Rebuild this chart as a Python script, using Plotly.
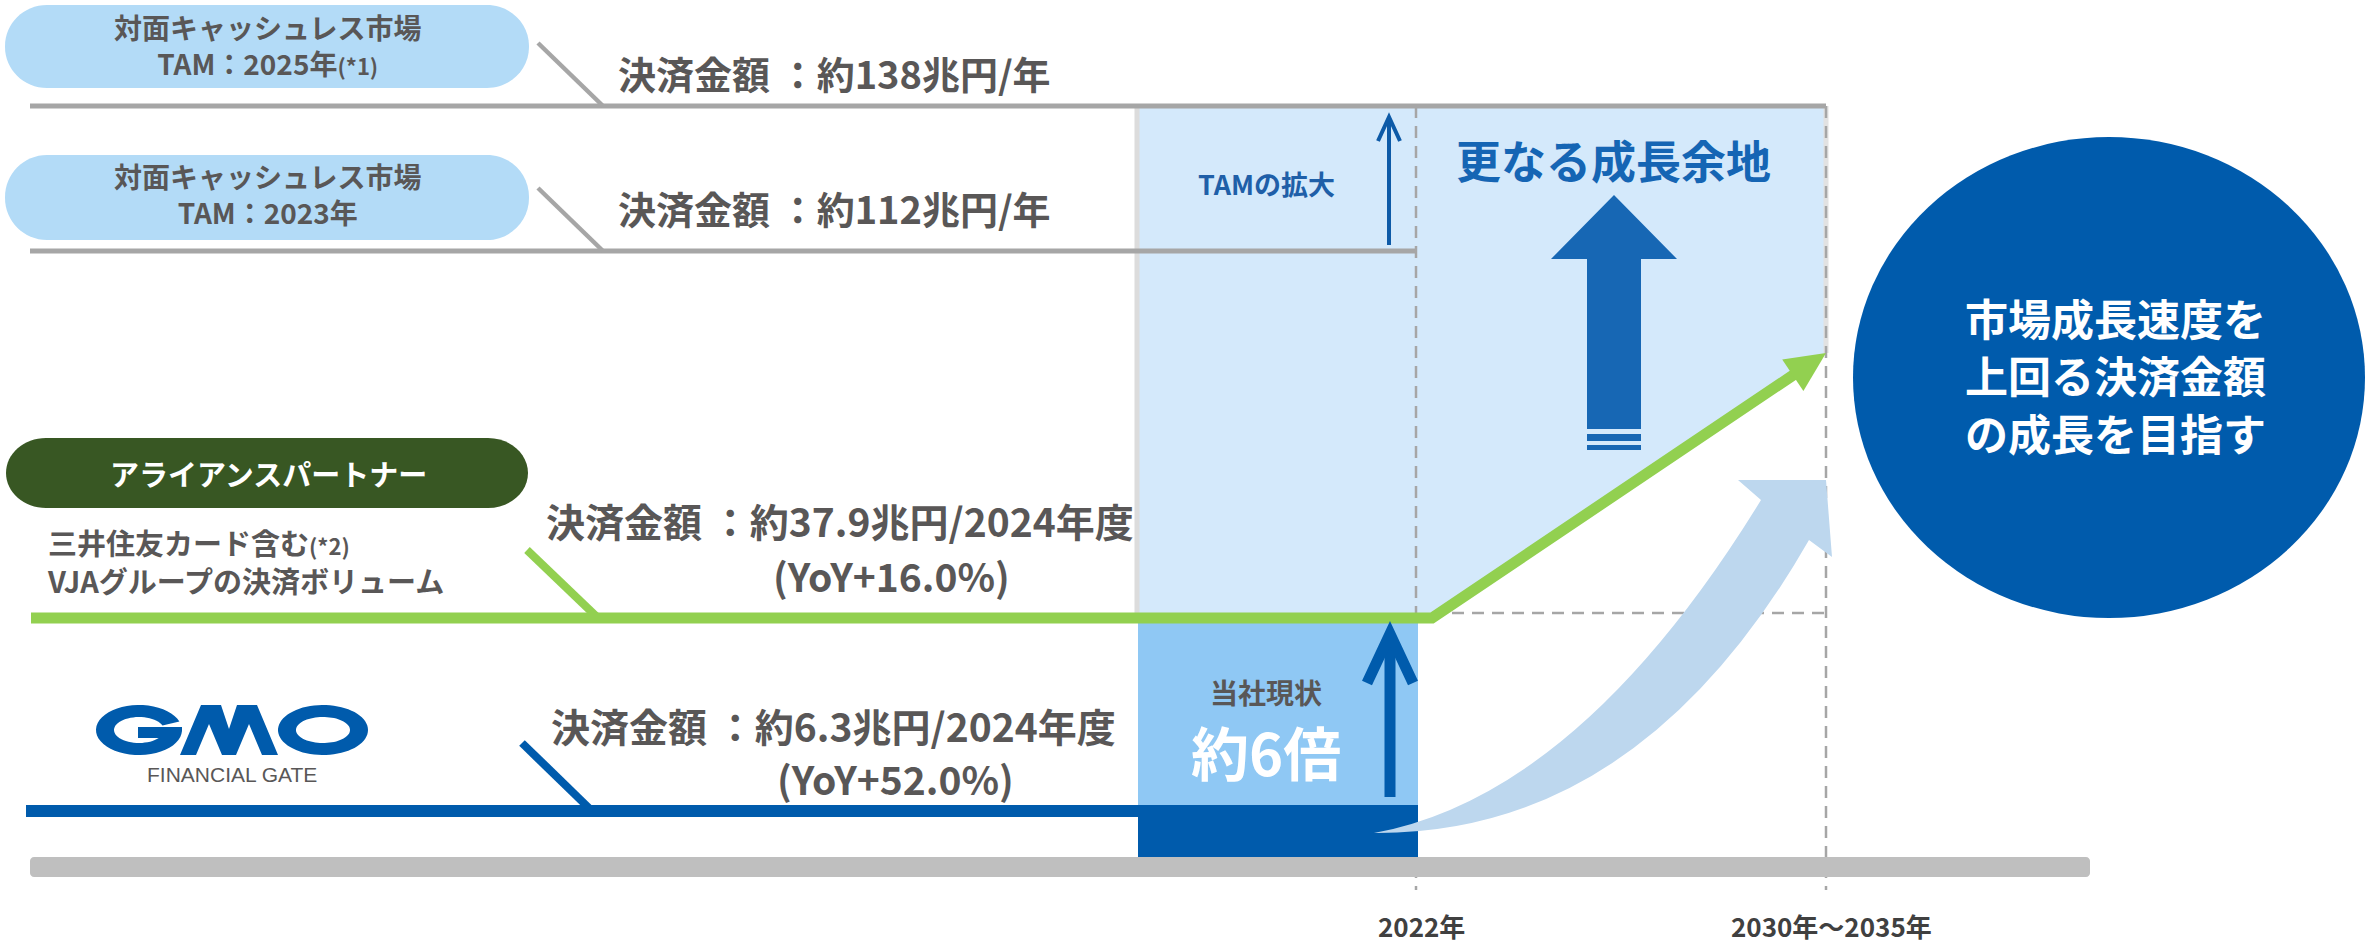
import numpy as np
import plotly.graph_objects as go

# ---- values shown in the diagram ----
tam_years = ["2025年", "2023年"]
tam_notes = ["(*1)", ""]
tam_values = [138, 112]                 # 兆円/年
partner_name = "アライアンスパートナー"
partner_desc = ["三井住友カード含む", "VJAグループの決済ボリューム"]
volume_values = [37.9, 6.3]             # 兆円/2024年度 (partner, GMO-FG)
volume_yoy = [16.0, 52.0]               # YoY %
milestones = ["2022年", "2030年～2035年"]
circle_lines = ["市場成長速度を", "上回る決済金額", "の成長を目指す"]

# ---- canvas layout (pixel space) ----
W, H = 2369, 945
X_LEFT = 30
milestone_x = [1416, 1826]
level_y = [106, 251, 618, 811]          # TAM2025, TAM2023, partner, GMO
X_BAND = 1138                           # left edge of the "now" column
X_BEND = 1432                           # where the partner line turns upward
Y_TIP = 353                             # partner arrow tip height
Y_AXIS = (857, 877)

JP = "Noto Sans CJK JP, Noto Sans, sans-serif"
TXT = "#595757"
BLUE = "#005bac"
GREEN = "#92d050"
GRAY = "#a6a6a6"

fig = go.Figure()
fig.add_trace(go.Scatter(x=[0, W], y=[0, H], mode="markers",
                         marker=dict(opacity=0), hoverinfo="skip"))
shapes = []


def line(x0, y0, x1, y1, color, width, dash=None):
    shapes.append(dict(type="line", xref="x", yref="y", x0=x0, y0=y0, x1=x1, y1=y1,
                       line=dict(color=color, width=width, dash=dash)))


def path(d, fill=None, color=None, width=0):
    shapes.append(dict(type="path", xref="x", yref="y", path=d,
                       fillcolor=fill if fill else "rgba(0,0,0,0)",
                       line=dict(color=color if color else "rgba(0,0,0,0)", width=width)))


def rect(x0, y0, x1, y1, fill):
    shapes.append(dict(type="rect", xref="x", yref="y", x0=x0, y0=y0, x1=x1, y1=y1,
                       fillcolor=fill, line=dict(width=0)))


def rounded(x0, y0, x1, y1, rx, ry):
    k = 0.5523
    return (f"M{x0+rx},{y0} L{x1-rx},{y0} "
            f"C{x1-rx+k*rx},{y0} {x1},{y0+ry-k*ry} {x1},{y0+ry} "
            f"L{x1},{y1-ry} C{x1},{y1-ry+k*ry} {x1-rx+k*rx},{y1} {x1-rx},{y1} "
            f"L{x0+rx},{y1} C{x0+rx-k*rx},{y1} {x0},{y1-ry+k*ry} {x0},{y1-ry} "
            f"L{x0},{y0+ry} C{x0},{y0+ry-k*ry} {x0+rx-k*rx},{y0} {x0+rx},{y0} Z")


def poly(pts):
    return "M" + " L".join(f"{x:.1f},{y:.1f}" for x, y in pts) + " Z"


def arc(cx, cy, rx, ry, a0, a1, n=48):
    t = np.radians(np.linspace(a0, a1, n))
    return [(cx + rx * np.cos(a), cy - ry * np.sin(a)) for a in t]


y25, y23, yp, yg = level_y
x_now, x_goal = milestone_x

# light-blue growth area (bounded below by the partner line)
path(f"M{X_BAND},{y25} L{x_goal},{y25} L{x_goal},{Y_TIP} L{X_BEND},{yp} L{X_BAND},{yp} Z",
     fill="#d4e9fb")
line(X_BAND - 1, y25, X_BAND - 1, yp, "#dcdcdc", 5)
line(x_goal, y25, x_goal, Y_TIP, "#e2e2e2", 5)

# milestone guides
for mx in milestone_x:
    line(mx, y25, mx, 890, GRAY, 2.5, "12px,8px")
line(X_BEND, yp - 5, x_goal, yp - 5, GRAY, 2.5, "12px,8px")

# TAM levels
tam_ends = [x_goal, x_now]
for y, xe in zip([y25, y23], tam_ends):
    line(X_LEFT, y, xe, y, GRAY, 5)
    line(538, y - 63, 603, y, GRAY, 4.5)

# current-position column
rect(X_BAND, yp + 5, x_now + 2, yg - 6, "#8fc8f4")
rect(X_BAND, yg - 6, x_now + 2, Y_AXIS[0], BLUE)

# time axis bar
path(rounded(X_LEFT, Y_AXIS[0], 2090, Y_AXIS[1], 4, 4), fill="#bfbfbf")

# GMO-FG volume line
line(26, yg, X_BAND, yg, BLUE, 12)
line(522, yg - 68, 592, yg, BLUE, 8)

# partner volume line with arrow towards the goal
ux, uy = x_goal - X_BEND, Y_TIP - yp
ln = np.hypot(ux, uy)
ux, uy = ux / ln, uy / ln
head_l, head_w = 40, 19
bx, by = x_goal - head_l * ux, Y_TIP - head_l * uy
px, py = -uy, ux
path(f"M31,{yp} L{X_BEND},{yp} L{bx + 4*ux:.1f},{by + 4*uy:.1f}", color=GREEN, width=11)
path(poly([(x_goal, Y_TIP), (bx + head_w * px, by + head_w * py), (bx - head_w * px, by - head_w * py)]),
     fill=GREEN)
line(527, yp - 68, 598, yp, GREEN, 8)

# sweeping growth arrow
path("M1374,833 Q1580,795 1761,500 L1738,480 L1826,480 L1832,557 L1809,540 Q1640,835 1374,833 Z",
     fill="#bdd7ee")

# arrow inside the current-position column (約6倍)
line(1390, 797, 1390, 640, BLUE, 11)
path("M1367,683 L1390,634 L1413,683", color=BLUE, width=11)

# thin arrow: TAM expansion
line(1389, 245, 1389, 120, "#0d5aa7", 4)
path("M1378,141 L1389,117 L1400,141", color="#0d5aa7", width=4)

# big arrow: further growth potential
path("M1614,195 L1677,259 L1641,259 L1641,429 L1587,429 L1587,259 L1551,259 Z", fill="#1767b4")
rect(1587, 434, 1641, 441, "#1767b4")
rect(1587, 445, 1641, 450, "#1767b4")

# goal circle
shapes.append(dict(type="circle", xref="x", yref="y", x0=1853, y0=137, x1=2365, y1=618,
                   fillcolor=BLUE, line=dict(width=0)))

# label pills
path(rounded(5, 5, 529, 88, 42, 41), fill="#b3dbf7")
path(rounded(5, 155, 529, 240, 42, 42), fill="#b3dbf7")
path(rounded(6, 438, 528, 508, 40, 35), fill="#385723")

# GMO logo glyphs
g_pts = (arc(139, 730, 43, 25, 20, 358) + [(182, 727), (138, 727), (138, 738), (158.7, 738)]
         + arc(139, 730, 25, 13, -38, -340))
path(poly(g_pts), fill=BLUE)
m_pts = [(180, 755), (201, 705), (221, 705), (229, 729), (237, 705), (257, 705), (278, 755),
         (262, 755), (249, 724), (236, 755), (222, 755), (209, 724), (196, 755)]
path(poly(m_pts), fill=BLUE)
path(poly(arc(323, 730, 45, 25, 0, 360, 72)) + " " + poly(arc(323, 730, 27, 13, 360, 0, 72)), fill=BLUE)

fig.update_layout(shapes=shapes)


def label(x, y, text, size, color, anchor="center", bold=True, family=JP):
    fig.add_annotation(x=x, y=y, xref="x", yref="y", showarrow=False,
                       text=f"<b>{text}</b>" if bold else text,
                       xanchor=anchor, yanchor="middle", align=anchor if anchor != "center" else "center",
                       font=dict(family=family, size=size, color=color))


# TAM pills and values
for pill_y, yr, note, v, y in zip([45, 194], tam_years, tam_notes, tam_values, [72, 207]):
    note_html = f"<span style='font-size:22px'>{note}</span>" if note else ""
    label(267, pill_y, f"対面キャッシュレス市場<br>TAM：{yr}{note_html}", 28, TXT)
    label(616, y, f"決済金額 ：約{v}兆円/年", 38, TXT, anchor="left")

# partner
label(268, 473, partner_name, 29, "white")
label(45, 561, f"{partner_desc[0]}<span style='font-size:22px'>(*2)</span><br>{partner_desc[1]}",
      29, TXT, anchor="left")

vol_pos = [(544, 520, 891, 575), (549, 725, 895, 778)]
for (xl, yl, xc, yc), v, g in zip(vol_pos, volume_values, volume_yoy):
    label(xl, yl, f"決済金額 ：約{v}兆円/2024年度", 39, TXT, anchor="left")
    label(xc, yc, f"(YoY+{g:.1f}%)", 39, TXT)

label(232, 774, "FINANCIAL GATE", 21, TXT, bold=False,
      family="Liberation Sans Narrow, Liberation Sans, sans-serif")

# column texts
ratio = round(volume_values[0] / volume_values[1])
label(1266, 183, "TAMの拡大", 27, "#1f5fa8")
label(1613, 159, "更なる成長余地", 45, "#1565b4")
label(1266, 692, "当社現状", 28, TXT)
label(1266, 751, f"約{ratio}倍", 58, "white")

for yy, t in zip([317, 374, 432], circle_lines):
    label(2115, yy, t, 43, "white")

for mx, t in zip(milestone_x, milestones):
    label(mx + 5, 925, t, 26, "#404040")

fig.update_layout(
    width=W, height=H, margin=dict(l=0, r=0, t=0, b=0),
    paper_bgcolor="white", plot_bgcolor="white", showlegend=False,
    xaxis=dict(range=[0, W], visible=False, fixedrange=True),
    yaxis=dict(range=[H, 0], visible=False, fixedrange=True),
)

fig.write_html("out.html", config={"displayModeBar": False})
